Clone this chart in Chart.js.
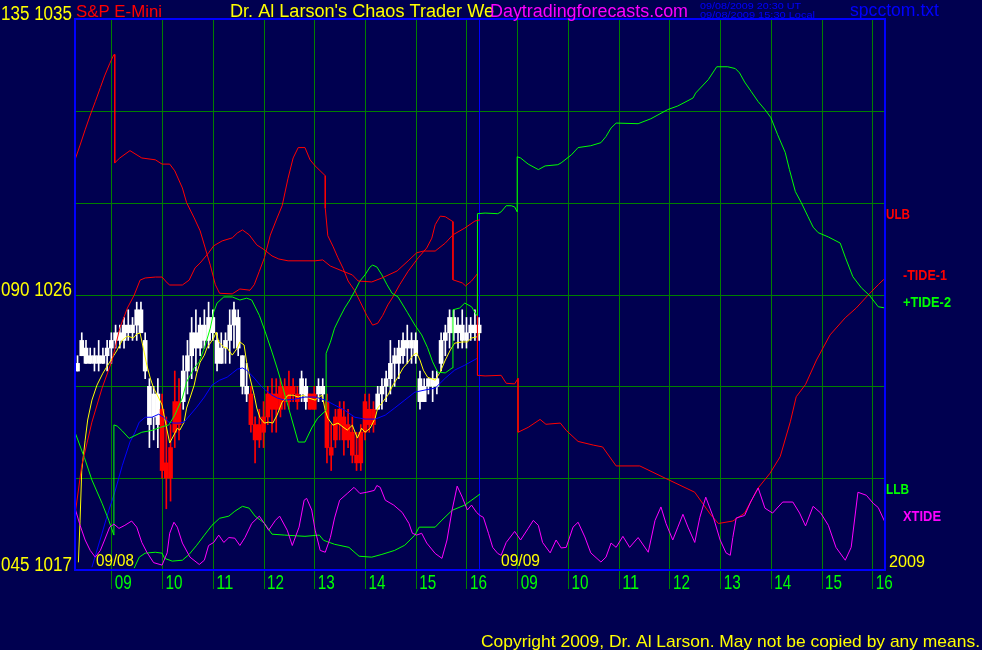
<!DOCTYPE html>
<html>
<head>
<meta charset="utf-8">
<title>S&amp;P E-Mini</title>
<script src="https://cdn.jsdelivr.net/npm/chart.js@4.4.0/dist/chart.umd.min.js"></script>
<style>
  html, body { margin: 0; padding: 0; background: #000050; }
</style>
</head>
<body>
<canvas id="c" width="982" height="650"></canvas>
<script>
// x = minutes from 08:15 on 09/08, the 09/09 session carries on from 480
const barStart = 5;
const barStep = 5;

// 5 minute bars, 09/08
const barLow = [1023.5, 1024.0, 1023.75, 1023.75, 1023.5, 1023.5, 1023.75, 1023.5, 1023.75, 1024.25,
  1024.25, 1024.25, 1024.5, 1024.5, 1024.5, 1024.75, 1023.25, 1021.0, 1021.25, 1021.0,
  1020.0, 1019.0, 1019.25, 1021.0, 1021.25, 1022.25, 1022.75, 1023.25, 1023.5, 1024.0,
  1024.25, 1024.25, 1024.5, 1023.5, 1023.75, 1023.75, 1023.75, 1024.25, 1024.0, 1022.75,
  1022.5, 1021.5, 1020.5, 1021.0, 1021.0, 1021.75, 1021.5, 1021.5, 1022.0, 1022.25,
  1022.25, 1022.5, 1022.25, 1022.5, 1022.25, 1022.25, 1022.25, 1022.5, 1022.5, 1020.5,
  1020.25, 1021.0, 1021.25, 1020.75, 1021.0, 1020.5, 1020.25, 1020.25, 1021.25, 1021.5,
  1021.5, 1022.25, 1022.25, 1022.5, 1022.75, 1023.0, 1023.25, 1023.75, 1023.75, 1023.75,
  1023.75, 1022.25, 1022.5, 1022.75, 1022.5, 1022.75, 1023.5, 1024.0, 1024.25, 1024.5,
  1024.25, 1024.25, 1024.25, 1024.5, 1024.5, 1024.5];
const barHigh = [1024.0, 1024.75, 1024.5, 1024.25, 1024.25, 1024.5, 1024.25, 1024.5, 1024.75, 1025.0,
  1025.0, 1025.25, 1025.5, 1025.25, 1025.75, 1025.75, 1024.75, 1023.25, 1023.0, 1023.25,
  1022.75, 1022.0, 1021.75, 1023.5, 1023.25, 1024.0, 1024.5, 1025.25, 1025.5, 1025.25,
  1025.5, 1025.75, 1025.5, 1024.75, 1024.75, 1024.75, 1025.5, 1025.75, 1025.5, 1024.0,
  1023.75, 1023.0, 1022.0, 1022.25, 1022.5, 1023.0, 1023.25, 1023.25, 1023.25, 1023.25,
  1023.5, 1023.25, 1023.0, 1023.5, 1023.25, 1022.75, 1023.0, 1023.25, 1023.25, 1022.75,
  1021.75, 1022.25, 1022.5, 1022.5, 1022.25, 1022.0, 1021.5, 1021.75, 1022.75, 1022.75,
  1022.5, 1023.0, 1023.25, 1023.5, 1024.5, 1024.25, 1024.5, 1024.75, 1025.0, 1024.75,
  1024.75, 1023.5, 1023.25, 1023.25, 1023.5, 1023.5, 1024.75, 1025.0, 1025.5, 1025.5,
  1025.25, 1025.5, 1025.25, 1025.25, 1025.5, 1025.25];
const barOpen = [1023.5, 1024.0, 1024.25, 1024.0, 1023.75, 1024.0, 1023.75, 1024.0, 1024.25, 1024.5,
  1024.75, 1024.5, 1025.0, 1024.75, 1025.0, 1025.5, 1024.5, 1023.0, 1022.0, 1022.75,
  1022.25, 1020.5, 1020.0, 1021.5, 1022.5, 1022.5, 1023.5, 1024.0, 1024.75, 1024.25,
  1025.0, 1024.5, 1025.25, 1024.5, 1023.75, 1024.25, 1024.5, 1025.0, 1025.25, 1024.0,
  1023.0, 1022.75, 1021.75, 1021.25, 1021.5, 1022.0, 1022.25, 1022.75, 1022.25, 1022.5,
  1023.0, 1022.75, 1022.5, 1022.75, 1023.0, 1022.75, 1022.25, 1022.75, 1023.0, 1022.5,
  1021.0, 1021.25, 1021.75, 1022.0, 1021.25, 1021.5, 1020.75, 1020.5, 1021.5, 1022.25,
  1021.75, 1022.25, 1022.75, 1023.0, 1023.25, 1023.75, 1023.75, 1024.0, 1024.5, 1024.25,
  1024.5, 1023.25, 1022.5, 1023.0, 1023.25, 1023.0, 1023.75, 1024.5, 1024.75, 1025.25,
  1024.75, 1025.0, 1024.5, 1024.75, 1024.75, 1025.0];
const barClose = [1023.75, 1024.5, 1023.75, 1023.75, 1024.0, 1023.75, 1024.0, 1024.25, 1024.5, 1024.75,
  1024.5, 1025.0, 1024.75, 1025.0, 1025.5, 1024.75, 1023.5, 1021.75, 1022.75, 1021.75,
  1020.25, 1020.0, 1021.0, 1022.5, 1021.75, 1023.5, 1024.0, 1024.75, 1024.25, 1025.0,
  1024.5, 1025.25, 1024.75, 1023.75, 1024.25, 1024.5, 1025.0, 1025.5, 1024.25, 1023.0,
  1022.75, 1021.75, 1021.25, 1021.75, 1022.0, 1022.75, 1022.75, 1022.25, 1023.0, 1023.0,
  1022.5, 1023.0, 1022.75, 1023.25, 1022.5, 1022.25, 1022.75, 1023.0, 1022.75, 1021.0,
  1020.75, 1022.0, 1022.25, 1021.25, 1021.75, 1020.75, 1020.5, 1021.5, 1022.5, 1021.75,
  1022.25, 1022.75, 1023.0, 1023.25, 1023.75, 1024.0, 1024.25, 1024.5, 1024.25, 1024.5,
  1024.0, 1022.5, 1023.0, 1023.25, 1023.0, 1023.25, 1024.5, 1024.75, 1025.25, 1024.75,
  1025.0, 1024.5, 1024.75, 1025.0, 1025.0, 1024.75];
// w = white bar, r = red bar
const barColor = 'wwwwwwwwww' + 'wwwwwwwwww' + 'rrrrrwwwww' + 'wwwwwwwwww' + 'wrrrrrrrrr' +
  'rrrwwrrwwr' + 'rrrrrrrrrr' + 'rwwwwwwwww' + 'wwwwwwwwww' + 'wwwwww';

// averages of price, [minute, price]
const fastAvg = [[6,1017.25],[8,1018.63],[10,1020.26],[14,1021.24],[17,1021.90],[22,1022.55],[28,1023.04],
  [35,1023.43],[43,1023.79],[52,1024.19],[58,1024.51],[64,1024.64],[71,1024.58],[75,1024.71],[79,1024.74],
  [84,1024.09],[87,1023.69],[91,1023.27],[95,1022.94],[101,1022.62],[105,1022.39],[108,1021.96],[114,1021.15],
  [119,1021.41],[123,1021.63],[126,1021.57],[131,1021.83],[134,1022.29],[138,1022.62],[143,1023.04],[146,1023.43],
  [150,1023.79],[155,1024.02],[158,1024.25],[162,1024.41],[166,1024.58],[169,1024.77],[172,1024.45],[178,1024.28],
  [182,1024.25],[188,1024.02],[194,1024.25],[197,1024.45],[202,1024.35],[205,1023.79],[209,1023.27],[214,1022.71],
  [217,1022.29],[221,1021.96],[226,1021.80],[231,1021.83],[236,1021.80],[241,1022.06],[247,1022.49],[254,1022.71],
  [260,1022.71],[266,1022.65],[272,1022.71],[278,1022.62],[286,1022.55],[289,1022.62],[294,1022.71],[298,1022.22],
  [301,1021.96],[307,1021.73],[313,1021.80],[319,1021.67],[324,1021.57],[330,1021.73],[336,1021.31],[341,1021.63],
  [345,1021.50],[351,1021.63],[357,1021.96],[360,1022.29],[366,1022.49],[372,1022.71],[378,1023.04],[384,1023.30],
  [390,1023.60],[396,1023.79],[402,1024.02],[406,1024.09],[410,1023.86],[414,1023.53],[419,1023.30],[428,1023.20],
  [434,1023.47],[440,1023.86],[446,1024.19],[451,1024.41],[460,1024.45],[466,1024.45],[471,1024.58],[477,1024.61],
  [481,1024.74]];
const slowAvg = [[22,1017.09],[34,1018.20],[42,1018.95],[49,1019.54],[58,1020.42],[67,1021.18],[73,1021.50],
  [78,1021.83],[85,1021.99],[93,1021.99],[101,1022.09],[107,1021.99],[113,1021.83],[119,1021.80],[125,1021.80],
  [131,1021.83],[138,1022.06],[146,1022.32],[155,1022.65],[164,1023.04],[173,1023.20],[182,1023.30],[188,1023.43],
  [194,1023.56],[200,1023.60],[205,1023.53],[214,1023.27],[221,1023.04],[227,1022.88],[235,1022.71],[241,1022.62],
  [250,1022.55],[262,1022.58],[274,1022.65],[286,1022.65],[298,1022.55],[309,1022.39],[321,1022.22],[333,1021.99],
  [345,1021.93],[357,1021.93],[369,1022.06],[380,1022.29],[392,1022.55],[404,1022.81],[416,1022.88],[428,1022.94],
  [440,1023.27],[451,1023.53],[463,1023.69],[478,1023.92]];

// upper and lower limit bands, [minute, price]
const ulb = [[2,1018.79],[10,1020.42],[22,1021.83],[34,1022.94],[46,1023.86],[55,1024.90],[64,1025.56],[72,1025.98],
  [79,1026.47],[85,1026.54],[97,1026.57],[105,1026.57],[111,1026.38],[114,1026.31],[129,1026.31],[137,1026.47],
  [144,1026.87],[150,1027.03],[160,1027.36],[166,1027.59],[176,1027.75],[188,1027.85],[194,1028.01],[200,1028.11],
  [208,1027.95],[217,1027.62],[226,1027.46],[235,1027.26],[243,1027.16],[254,1027.10],[286,1027.10],[295,1027.13],
  [304,1026.93],[318,1026.77],[330,1026.64],[337,1026.44],[353,1026.41],[365,1026.54],[383,1026.77],[396,1027.10],
  [406,1027.36],[414,1027.42],[428,1027.42],[440,1027.68],[449,1027.95],[463,1028.17],[475,1028.40],[481,1028.44]];
const llb = [[72,1017.06],[78,1017.42],[85,1017.55],[97,1017.58],[105,1017.55],[108,1017.38],[117,1017.29],
  [129,1017.32],[137,1017.51],[146,1017.81],[155,1018.14],[164,1018.46],[173,1018.69],[184,1018.76],[191,1018.92],
  [200,1019.08],[208,1019.02],[215,1018.76],[226,1018.53],[235,1018.17],[250,1018.14],[274,1018.10],[291,1018.14],
  [296,1017.97],[309,1017.84],[326,1017.74],[338,1017.45],[353,1017.42],[365,1017.51],[380,1017.64],[392,1017.81],
  [404,1018.14],[409,1018.40],[428,1018.40],[436,1018.63],[448,1018.95],[463,1019.12],[481,1019.48]];

// tides, [minute, tide scale 045-135]
const tide1 = [[2,112.0],[8,114.4],[14,116.9],[20,119.3],[26,121.5],[32,123.8],[37,125.7],[43,127.7],[48,129.2],
  [49,129.2],[49,111.5],[55,112.3],[67,113.5],[81,112.3],[97,112.0],[105,111.3],[114,111.3],[120,110.2],[129,107.4],
  [134,105.0],[143,102.5],[150,100.4],[156,97.6],[162,94.8],[168,91.6],[173,90.2],[188,90.1],[197,90.9],[209,90.7],
  [214,91.6],[220,93.8],[226,96.0],[233,99.7],[241,102.5],[247,104.5],[254,109.0],[260,112.3],[266,114.0],[274,114.0],
  [280,112.0],[286,111.0],[298,109.4],[298,104.1],[301,99.6],[307,97.9],[313,96.0],[319,94.3],[325,92.2],[333,90.6],
  [339,88.9],[347,86.6],[354,85.0],[360,85.3],[366,86.6],[372,88.3],[378,89.6],[386,91.6],[396,93.8],[408,96.0],
  [418,97.6],[424,99.2],[428,101.4],[434,102.8],[440,102.7],[449,101.9],[449,92.4],[460,91.9],[464,91.4],[471,92.2],
  [478,93.4],[478,76.8],[487,76.7],[506,76.8],[512,75.5],[522,75.4],[526,76.3],[526,67.5],[538,68.3],[552,69.6],
  [559,68.8],[576,69.0],[583,67.8],[597,66.0],[615,65.4],[626,65.1],[642,62.0],[670,62.0],[700,60.0],[735,57.7],
  [754,54.0],[763,52.6],[780,53.0],[794,54.3],[810,58.4],[824,60.8],[836,63.5],[848,69.2],[855,73.3],[866,75.3],
  [879,79.3],[895,83.4],[913,86.2],[926,87.8],[940,89.9],[952,91.6],[958,92.4],[960,92.5]];
const tide2 = [[2,67.5],[13,63.4],[22,59.7],[34,55.9],[42,53.1],[48,50.7],[48,68.7],[52,68.5],[58,67.7],[66,66.5],
  [81,67.5],[93,67.8],[103,68.3],[113,68.7],[120,70.3],[129,73.1],[134,75.7],[143,78.0],[149,79.0],[156,81.7],
  [162,84.5],[166,87.1],[170,88.6],[178,89.6],[188,89.6],[197,89.1],[205,89.4],[211,89.1],[220,86.6],[227,83.9],
  [235,80.6],[241,78.0],[247,75.2],[256,70.8],[266,65.9],[274,65.9],[282,68.2],[289,69.8],[299,71.1],[299,80.4],
  [304,82.2],[309,84.5],[315,86.2],[321,87.8],[327,89.1],[333,90.6],[339,92.2],[345,93.2],[351,94.5],[354,94.8],
  [359,94.5],[365,93.2],[371,91.6],[377,90.2],[384,89.6],[395,87.1],[404,85.0],[412,83.4],[419,81.3],[425,79.0],
  [431,77.3],[440,77.2],[448,78.0],[449,78.3],[449,87.5],[457,87.8],[463,88.6],[471,88.0],[477,86.6],[478,86.6],
  [478,103.2],[487,103.3],[502,103.2],[506,103.5],[512,104.5],[518,104.5],[522,104.3],[525,103.5],[525,112.5],
  [529,112.3],[538,111.3],[550,110.4],[558,111.0],[573,111.2],[577,111.5],[589,112.8],[597,114.0],[612,114.3],
  [624,114.8],[630,115.8],[636,117.2],[642,118.0],[668,117.9],[683,118.7],[703,120.2],[715,120.8],[733,122.1],
  [736,122.9],[751,125.1],[761,127.2],[774,127.2],[783,126.9],[788,126.2],[794,124.7],[802,123.1],[810,121.5],
  [818,120.2],[825,118.9],[833,116.1],[842,113.2],[847,110.4],[854,106.8],[861,105.0],[869,102.7],[875,101.0],
  [881,100.1],[893,99.4],[907,98.4],[913,96.1],[922,92.9],[932,91.1],[942,89.8],[952,88.0],[960,87.8]];
const xtide = [[2,55.1],[8,52.3],[14,49.9],[20,48.2],[26,47.1],[32,48.2],[37,49.9],[43,52.0],[48,52.5],[54,51.8],
  [61,52.3],[69,53.0],[75,52.0],[81,49.5],[87,47.9],[95,46.2],[105,45.8],[111,47.8],[114,51.0],[119,52.8],[123,52.0],
  [129,49.4],[138,47.1],[149,45.9],[155,46.6],[160,49.0],[166,49.5],[172,50.7],[178,49.5],[184,50.3],[191,50.2],
  [197,49.0],[203,50.3],[211,52.6],[220,53.8],[226,52.6],[231,51.5],[239,53.1],[244,53.8],[253,51.5],[259,49.0],
  [267,52.0],[273,56.4],[276,56.7],[282,54.8],[286,51.5],[292,48.2],[298,47.9],[304,50.3],[309,53.5],[315,56.4],
  [324,57.5],[332,58.5],[339,57.5],[347,57.7],[356,58.0],[359,58.8],[363,58.5],[369,56.4],[379,55.6],[389,54.4],
  [397,52.6],[401,51.0],[406,50.7],[412,51.0],[418,49.4],[428,47.7],[436,46.9],[442,49.9],[448,54.8],[454,58.7],
  [460,56.9],[466,54.8],[471,55.6],[477,54.4],[481,53.9],[485,53.6],[491,51.0],[496,48.7],[502,47.7],[506,47.4],
  [512,49.5],[522,51.3],[529,49.9],[538,51.8],[544,53.1],[550,52.3],[555,49.5],[564,47.8],[571,49.9],[577,48.6],
  [583,48.7],[591,52.0],[597,52.8],[605,50.4],[612,47.8],[624,46.3],[630,47.1],[636,49.4],[642,48.7],[650,50.5],
  [658,48.7],[668,50.3],[680,47.9],[688,53.1],[695,55.3],[701,52.6],[709,49.9],[715,52.0],[721,54.1],[727,52.0],
  [735,49.5],[741,53.6],[748,56.9],[757,53.6],[765,49.9],[772,47.8],[777,47.4],[780,50.3],[784,53.5],[794,53.9],
  [801,56.1],[810,58.4],[818,55.1],[827,54.3],[839,56.1],[851,56.1],[859,54.3],[866,52.2],[875,55.4],[884,54.3],
  [893,52.3],[902,48.7],[913,46.6],[920,48.7],[928,57.7],[938,57.2],[946,55.9],[952,55.2],[960,52.8]];

// axis marks
const hourTicks = [45, 105, 165, 225, 285, 345, 405, 465, 525, 585, 645, 705, 765, 825, 885, 945];
const hourLabels = ['09', '10', '11', '12', '13', '14', '15', '16', '09', '10', '11', '12', '13', '14', '15', '16'];
const priceGrid = [1020, 1023, 1026, 1029, 1032];
const priceLabels = [1035, 1026, 1017];
const tideLabels = ['135', '090', '045'];
const dayBreak = 480;

const FONT = "'Liberation Sans', Arial, sans-serif";
const WHITE = '#ffffff', RED = '#ff0000', GREEN = '#00ff00', GRID = '#008000';
const YELLOW = '#ffff00', MAGENTA = '#ff00ff', BLUE = '#0000ff';

const xy = pts => pts.map(p => ({ x: p[0], y: p[1] }));
const barX = i => barStart + i * barStep;
const barFill = ctx => barColor.charAt(ctx.dataIndex) === 'r' ? RED : WHITE;

function lineSet(label, pts, color, axis) {
  return {
    type: 'line', label: label, data: xy(pts), yAxisID: axis || 'y',
    borderColor: color, borderWidth: 1, pointRadius: 0, tension: 0, fill: false, order: 1
  };
}

// text squeezed to a given width, the old chart uses a narrow face
function say(ctx, s, x, y, color, font, width, align) {
  ctx.save();
  ctx.font = font;
  ctx.fillStyle = color;
  ctx.textAlign = align || 'left';
  ctx.textBaseline = 'alphabetic';
  const w = ctx.measureText(s).width;
  ctx.translate(x, y);
  ctx.scale(width / w, 1);
  ctx.fillText(s, 0, 0);
  ctx.restore();
}

const decor = {
  id: 'decor',
  beforeDraw(chart) {
    const ctx = chart.ctx;
    ctx.save();
    ctx.fillStyle = '#000050';
    ctx.fillRect(0, 0, chart.width, chart.height);
    ctx.restore();
  },
  beforeDatasetsDraw(chart) {
    const { ctx, chartArea: a, scales: { x, y } } = chart;
    ctx.save();
    ctx.lineWidth = 1;
    ctx.strokeStyle = GRID;
    ctx.beginPath();
    priceGrid.forEach(v => {
      const py = Math.round(y.getPixelForValue(v)) + 0.5;
      ctx.moveTo(a.left, py); ctx.lineTo(a.right, py);
    });
    hourTicks.forEach(m => {
      const px = Math.round(x.getPixelForValue(m)) + 0.5;
      ctx.moveTo(px, a.top); ctx.lineTo(px, a.bottom + 19);
    });
    ctx.stroke();
    ctx.strokeStyle = BLUE;
    ctx.beginPath();
    const bx = Math.round(x.getPixelForValue(dayBreak)) + 0.5;
    ctx.moveTo(bx, a.top); ctx.lineTo(bx, a.bottom);
    ctx.stroke();
    ctx.restore();
  },
  afterDraw(chart) {
    const { ctx, chartArea: a, scales: { x, y } } = chart;
    ctx.save();
    // frame
    ctx.strokeStyle = BLUE;
    ctx.lineWidth = 2;
    ctx.strokeRect(a.left, a.top, a.right - a.left, a.bottom - a.top);
    ctx.restore();

    // left scale
    priceLabels.forEach((v, i) => {
      say(ctx, tideLabels[i] + ' ' + v, 72, y.getPixelForValue(v) + 1, YELLOW, '20px ' + FONT, 71, 'right');
    });
    // hours, next to their lines
    hourTicks.forEach((m, i) => {
      say(ctx, hourLabels[i], x.getPixelForValue(m) + 12, 589, GREEN, '21px ' + FONT, 17, 'center');
    });

    // headings
    say(ctx, 'S&P E-Mini', 76, 17, RED, '17px ' + FONT, 86);
    say(ctx, "Dr. Al Larson's Chaos Trader We", 230, 17, YELLOW, '18px ' + FONT, 264);
    say(ctx, 'Daytradingforecasts.com', 490, 17, MAGENTA, '18px ' + FONT, 198);
    say(ctx, '09/08/2009 20:30 UT', 700, 9, BLUE, '9px ' + FONT, 101);
    say(ctx, '09/08/2009 15:30 Local', 700, 18, BLUE, '9px ' + FONT, 115);
    say(ctx, 'spcctom.txt', 850, 16, BLUE, '18px ' + FONT, 89);
    say(ctx, 'Copyright 2009, Dr. Al Larson. May not be copied by any means.', 481, 647, YELLOW, '17px ' + FONT, 499);

    // dates
    say(ctx, '09/08', 96, 566, YELLOW, '17px ' + FONT, 38);
    say(ctx, '09/09', 501, 566, YELLOW, '17px ' + FONT, 39);
    say(ctx, '2009', 889, 567, YELLOW, '17px ' + FONT, 36);

    // line names
    const b = 'bold 15px ' + FONT;
    say(ctx, 'ULB', 886, 219, RED, b, 24);
    say(ctx, '-TIDE-1', 903, 280, RED, b, 44);
    say(ctx, '+TIDE-2', 903, 307, GREEN, b, 48);
    say(ctx, 'LLB', 886, 494, GREEN, b, 23);
    say(ctx, 'XTIDE', 903, 521, MAGENTA, b, 38);
  }
};

const wicks = barLow.map((lo, i) => ({ x: barX(i), y: [lo, barHigh[i]] }));
const bodies = barOpen.map((o, i) => ({ x: barX(i), y: [Math.min(o, barClose[i]), Math.max(o, barClose[i])] }));

new Chart(document.getElementById('c'), {
  type: 'bar',
  data: {
    datasets: [
      { label: 'range', data: wicks, backgroundColor: barFill, barThickness: 1, grouped: false, order: 9 },
      { label: 'body', data: bodies, backgroundColor: barFill, barThickness: 4, grouped: false, order: 8 },
      lineSet('XTIDE', xtide, MAGENTA, 'tide'),
      lineSet('LLB', llb, GREEN),
      lineSet('ULB', ulb, RED),
      lineSet('+TIDE-2', tide2, GREEN, 'tide'),
      lineSet('-TIDE-1', tide1, RED, 'tide'),
      lineSet('slow', slowAvg, BLUE),
      lineSet('fast', fastAvg, YELLOW)
    ]
  },
  options: {
    responsive: false,
    animation: false,
    devicePixelRatio: 1,
    layout: { padding: { left: 75, right: 97, top: 19, bottom: 80 } },
    plugins: { legend: { display: false }, tooltip: { enabled: false } },
    scales: {
      x: { type: 'linear', min: 2, max: 960, offset: false, display: false },
      y: { min: 1017, max: 1035, display: false },
      tide: { min: 45, max: 135, display: false }
    }
  },
  plugins: [decor]
});
</script>
</body>
</html>
